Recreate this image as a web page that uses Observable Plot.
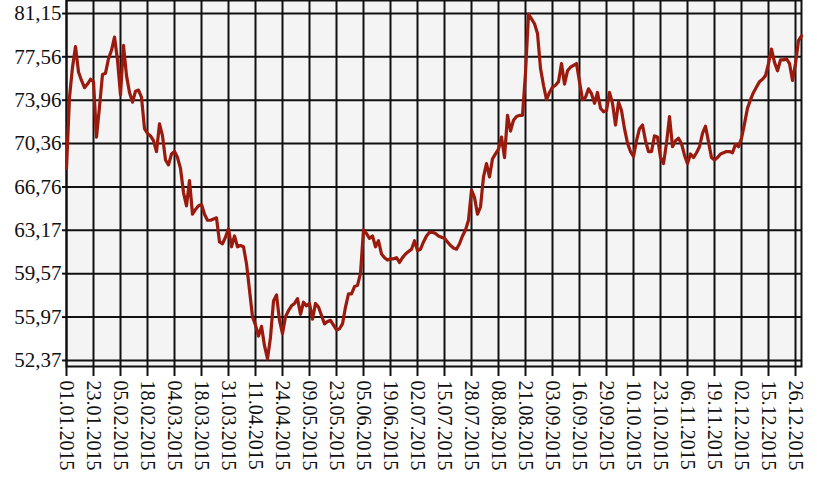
<!DOCTYPE html>
<html><head><meta charset="utf-8">
<script src="https://cdn.jsdelivr.net/npm/d3@7"></script>
<script src="https://cdn.jsdelivr.net/npm/@observablehq/plot@0.6"></script>
<style>body{margin:0;background:#fff}</style>
</head><body><div id="chart"></div>
<script>
const tickLabels = ["01.01.2015","23.01.2015","05.02.2015","18.02.2015","04.03.2015","18.03.2015","31.03.2015","11.04.2015","24.04.2015","09.05.2015","23.05.2015","05.06.2015","19.06.2015","02.07.2015","15.07.2015","28.07.2015","08.08.2015","21.08.2015","03.09.2015","16.09.2015","29.09.2015","10.10.2015","23.10.2015","06.11.2015","19.11.2015","02.12.2015","15.12.2015","26.12.2015"];
const yTicks = [52.37, 55.97, 59.57, 63.17, 66.76, 70.36, 73.96, 77.56, 81.15];
const values = [
68.3,74.2,76.7,78.4,76.3,75.6,75.0,75.3,75.7,75.5,
70.9,73.4,76.1,76.2,77.4,78.1,79.2,77.3,74.4,78.5,
76.0,74.6,73.8,74.7,74.8,74.2,71.6,71.2,71.0,70.6,
69.7,72.0,71.0,69.0,68.6,69.5,69.7,69.2,68.3,66.3,
65.2,67.3,64.5,64.9,65.2,65.3,64.5,64.0,64.0,64.1,
64.2,62.2,62.05,62.6,63.3,61.8,62.7,61.8,61.9,61.8,
60.4,58.2,56.0,55.3,54.4,55.2,53.6,52.5,54.3,57.3,
57.8,55.7,54.6,56.0,56.5,56.9,57.1,57.5,56.2,57.2,
56.9,57.1,55.8,57.1,56.8,56.1,55.4,55.6,55.7,55.3,
54.9,55.0,55.4,56.8,57.9,57.9,58.5,58.6,59.6,63.2,
62.9,62.5,62.7,61.8,62.3,61.2,60.9,60.7,60.8,60.8,
60.9,60.5,60.9,61.2,61.4,61.6,62.3,61.5,61.6,62.2,
62.7,63.0,63.0,62.9,62.7,62.6,62.5,62.2,61.9,61.7,
61.6,62.05,62.7,63.2,64.0,66.5,65.9,64.5,65.1,67.6,
68.7,67.6,69.1,69.5,69.9,70.9,69.2,72.7,71.4,72.3,
72.6,72.7,72.7,76.2,81.1,80.7,80.3,79.5,76.6,75.2,
74.0,74.6,75.05,75.2,75.5,77.0,75.3,76.4,76.7,76.85,
77.0,75.5,74.0,74.2,74.9,74.5,73.7,74.6,73.3,73.0,
73.1,74.6,73.7,71.9,73.8,73.1,71.6,70.4,69.7,69.3,
70.6,71.6,71.9,70.6,69.7,69.7,71.0,70.9,69.2,68.7,
70.4,72.6,70.1,70.6,70.8,70.35,69.4,68.7,69.5,69.2,
69.6,70.1,71.2,71.8,70.5,69.2,69.0,69.2,69.5,69.6,
69.7,69.7,69.6,70.3,70.1,70.8,72.0,73.3,74.0,74.6,
75.05,75.5,75.7,76.0,77.0,78.2,77.1,76.4,77.3,77.3,
77.4,77.0,75.6,77.0,78.9,79.3
];
const tickStep = 9;
const data = values.map((v, i) => ({i, v}));
const xTicks = tickLabels.map((_, k) => k * tickStep);
const fmtY = v => v.toFixed(2).replace(".", ",");
const chart = Plot.plot({
  width: 817, height: 490,
  marginTop: 0, marginLeft: 66, marginRight: 16, marginBottom: 124,
  style: {background: "#fff", fontFamily: "'Liberation Serif', 'Times New Roman', serif", color: "#111"},
  x: {domain: [0, values.length - 1], label: null},
  y: {domain: [51.87, 82.23], label: null},
  marks: [
    Plot.frame({fill: "#f4f4f4", stroke: null}),
    Plot.gridY(yTicks, {stroke: "#111", strokeOpacity: 1, strokeWidth: 2}),
    Plot.gridX(xTicks, {stroke: "#111", strokeOpacity: 1, strokeWidth: 2}),
    Plot.frame({stroke: "#111", strokeWidth: 2}),
    Plot.axisY(yTicks, {tickSize: 4, tickPadding: 1, tickFormat: fmtY, fontSize: 21, stroke: "#111", strokeWidth: 2}),
    Plot.axisX(xTicks, {tickSize: 10, tickPadding: 4, tickRotate: 90, tickFormat: i => tickLabels[i / tickStep], fontSize: 20, stroke: "#111", strokeWidth: 2}),
    Plot.line(data, {x: "i", y: "v", stroke: "#9a1a0e", strokeWidth: 3.2})
  ]
});
document.getElementById("chart").appendChild(chart);
</script>
</body></html>
